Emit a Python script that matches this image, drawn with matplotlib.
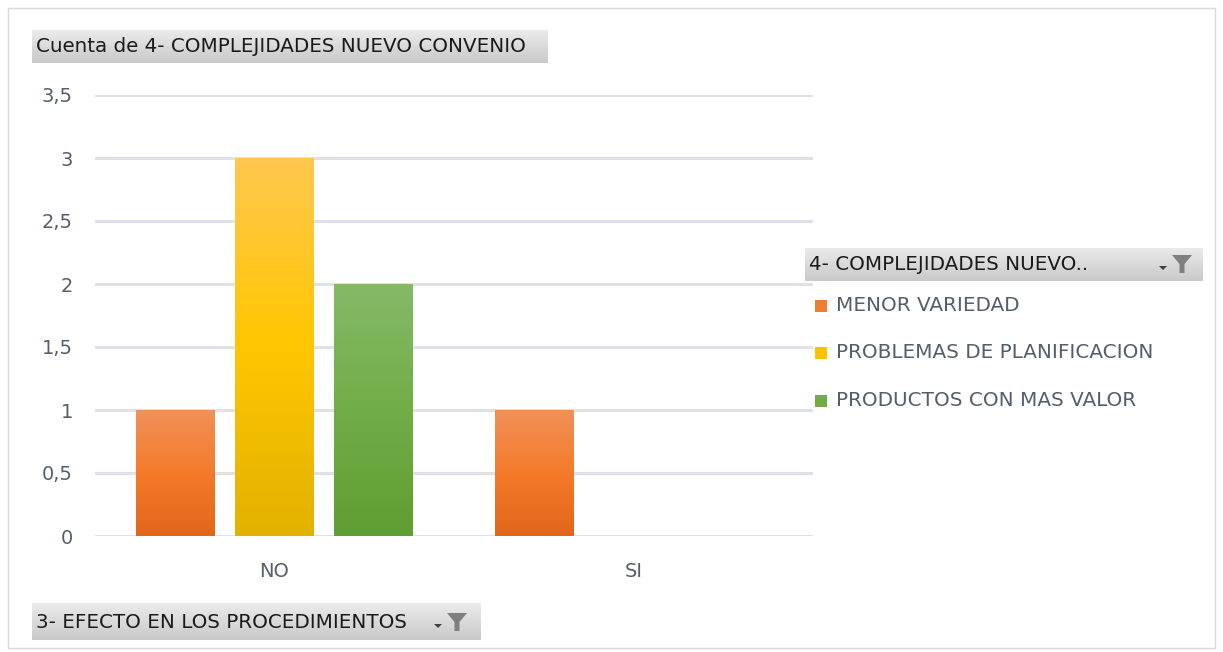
import numpy as np
import matplotlib
matplotlib.use("Agg")
import matplotlib.pyplot as plt
from matplotlib.patches import Rectangle, Polygon
from matplotlib.colors import LinearSegmentedColormap

categories = ["NO", "SI"]
series_names = ["MENOR VARIEDAD", "PROBLEMAS DE PLANIFICACION", "PRODUCTOS CON MAS VALOR"]
values = {
    "MENOR VARIEDAD": [1, 1],
    "PROBLEMAS DE PLANIFICACION": [3, 0],
    "PRODUCTOS CON MAS VALOR": [2, 0],
}
yticks = [0, 0.5, 1, 1.5, 2, 2.5, 3, 3.5]
ytick_labels = ["0", "0,5", "1", "1,5", "2", "2,5", "3", "3,5"]
title = "Cuenta de 4- COMPLEJIDADES NUEVO CONVENIO"
legend_title = "4- COMPLEJIDADES NUEVO.."
axis_field = "3- EFECTO EN LOS PROCEDIMIENTOS"

grad_colors = {
    "MENOR VARIEDAD": ["#F0915A", "#F47B2A", "#E2661A"],
    "PROBLEMAS DE PLANIFICACION": ["#FFC84E", "#FFC600", "#E2B200"],
    "PRODUCTOS CON MAS VALOR": ["#86B968", "#71AD47", "#5F9E34"],
}
solid = {"MENOR VARIEDAD": "#ED7D31", "PROBLEMAS DE PLANIFICACION": "#FFC000",
         "PRODUCTOS CON MAS VALOR": "#70AD47"}

W, H = 1223, 652
plt.rcParams['font.family'] = ['DejaVu Sans']
fig = plt.figure(figsize=(W / 100, H / 100), dpi=100)

TXT = "#555F6C"
HDR = "#1A1A1A"

def fx(x):
    return x / W

def fy(y):
    return 1 - y / H

fig.patches.append(Rectangle((fx(8), fy(648)), fx(1215) - fx(8), fy(8) - fy(648),
                             transform=fig.transFigure, fill=False, ec="#D9D9D9", lw=1))

ax = fig.add_axes([fx(95), fy(536), fx(813) - fx(95), fy(95) - fy(536)])
ax.set_xlim(-0.5, 1.5)
ax.set_ylim(0, 3.5)
for s in ax.spines.values():
    s.set_visible(False)
ax.set_yticks(yticks)
ax.set_yticklabels(ytick_labels, fontsize=14, color=TXT)
ax.set_xticks(range(len(categories)))
ax.set_xticklabels(categories, fontsize=14, color=TXT)
ax.tick_params(length=0)
ax.tick_params(axis="y", pad=16)
ax.tick_params(axis="x", pad=19)
for t in yticks:
    ax.axhline(t, color="#DEE2E8", lw=2.2, zorder=0)

x = np.arange(len(categories))
offset = 0.276
width = 0.22
grad = np.linspace(1, 0, 256).reshape(-1, 1)
for i, name in enumerate(series_names):
    cmap = LinearSegmentedColormap.from_list(name, grad_colors[name][::-1])
    bars = ax.bar(x + (i - 1) * offset, values[name], width=width, color=solid[name],
                  zorder=2, edgecolor="none")
    for b in bars:
        h = b.get_height()
        if h <= 0:
            continue
        bx, bw = b.get_x(), b.get_width()
        im = ax.imshow(grad, cmap=cmap, aspect="auto", extent=[bx, bx + bw, 0, h],
                       zorder=3, interpolation="bilinear")
        im.set_clip_path(b)
ax.set_xlim(-0.5, 1.5)
ax.set_ylim(0, 3.5)

def gray_box(x0, y0, x1, y1):
    gax = fig.add_axes([fx(x0), fy(y1), fx(x1) - fx(x0), fy(y0) - fy(y1)])
    g = np.linspace(0, 1, 64).reshape(-1, 1)
    cm = LinearSegmentedColormap.from_list("g", ["#EBEBEB", "#C9C9C9"])
    gax.imshow(g, cmap=cm, aspect="auto", extent=[0, 1, 0, 1])
    gax.set_axis_off()
    return gax

def funnel(cx, cy, s):
    pts = [(cx - s, cy - s * 0.9), (cx + s, cy - s * 0.9), (cx + s * 0.25, cy),
           (cx + s * 0.25, cy + s * 0.9), (cx - s * 0.25, cy + s * 0.9), (cx - s * 0.25, cy)]
    fig.patches.append(Polygon([(fx(a), fy(b)) for a, b in pts], closed=True,
                               transform=fig.transFigure, fc="#7F7F7F", ec="none", zorder=5))
    tri = [(cx - s * 2.3, cy + s * 0.2), (cx - s * 1.5, cy + s * 0.2), (cx - s * 1.9, cy + s * 0.6)]
    fig.patches.append(Polygon([(fx(a), fy(b)) for a, b in tri], closed=True,
                               transform=fig.transFigure, fc="#404040", ec="none", zorder=5))

gray_box(32, 30, 548, 63)
fig.text(fx(36), fy(46.5), title, fontsize=14.3, color=HDR, va="center", ha="left")

gray_box(805, 248, 1203, 281)
fig.text(fx(809), fy(265), legend_title, fontsize=14.3, color=HDR, va="center", ha="left")
funnel(1182, 264, 10)

gray_box(32, 603, 480, 640)
fig.text(fx(36), fy(622), axis_field, fontsize=14.3, color=HDR, va="center", ha="left")
funnel(457, 622, 10)

leg_y = [306, 353, 401]
for name, yy in zip(series_names, leg_y):
    fig.patches.append(Rectangle((fx(815), fy(yy + 6)), fx(12), fy(0) - fy(12),
                                 transform=fig.transFigure, fc=solid[name], ec="none"))
    fig.text(fx(836), fy(yy), name, fontsize=14.4, color=TXT, va="center", ha="left")

fig.savefig("out.png", dpi=100)
